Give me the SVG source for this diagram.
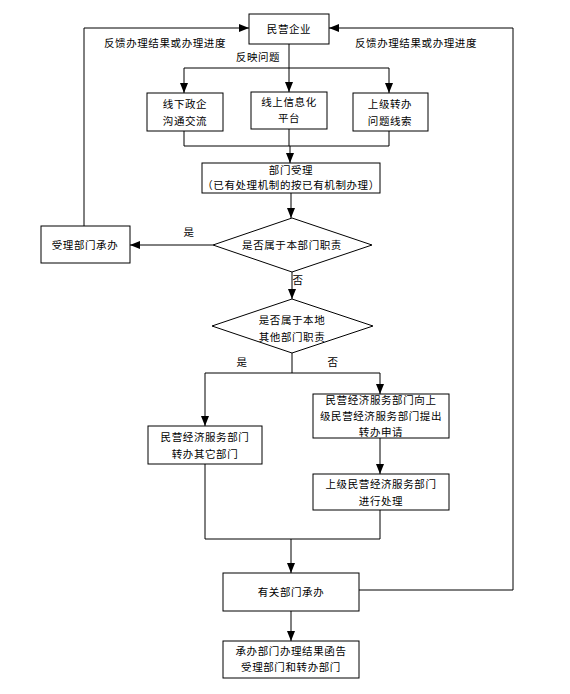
<svg xmlns="http://www.w3.org/2000/svg" width="570" height="694" viewBox="0 0 570 694">
<defs>
<marker id="arr" markerUnits="userSpaceOnUse" markerWidth="10" markerHeight="8" refX="10" refY="4" orient="auto">
<path d="M0,0 L10,4 L0,8 z" fill="#000"/>
</marker>
<style>
.n rect, .n polygon { fill: #fff; stroke: #000; stroke-width: 1; }
text { font-family: "Noto Sans CJK SC", "Liberation Sans", sans-serif; font-size: 10.5px; letter-spacing: 0.6px; fill: #000; text-anchor: middle; }
.c path { fill: none; stroke: #000; stroke-width: 1; }
.a { marker-end: url(#arr); }
</style>
</defs>
<rect width="570" height="694" fill="#fff"/>
<g class="c" id="connectors">
<path class="a" d="M84,226 V28 H249"/>
<path class="a" d="M359,590 H513 V28 H329"/>
<path class="a" d="M289,44 V92"/>
<path d="M184,68 H389"/>
<path class="a" d="M184,68 V93"/>
<path class="a" d="M389,68 V93"/>
<path d="M184,131 V146 M289,129 V146 M389,131 V146 M184,146 H389"/>
<path class="a" d="M290,146 V163"/>
<path class="a" d="M291,193 V218"/>
<path class="a" d="M213,245 H130"/>
<path class="a" d="M292,272 V299"/>
<path d="M292,353 V373 M205,373 H380"/>
<path class="a" d="M205,373 V426"/>
<path class="a" d="M380,373 V394"/>
<path class="a" d="M380,438 V474"/>
<path d="M205,464 V539 M380,510 V539 M205,539 H380"/>
<path class="a" d="M291,539 V573"/>
<path class="a" d="M291,611 V641"/>
</g>
<g id="labels">
<text x="165" y="47">反馈办理结果或办理进度</text>
<text x="416" y="47">反馈办理结果或办理进度</text>
<text x="258" y="61">反映问题</text>
<text x="189" y="236">是</text>
<text x="298" y="284">否</text>
<text x="242" y="366">是</text>
<text x="333" y="366">否</text>
</g>
<g class="n" id="n_enterprise"><rect x="249" y="14" width="80" height="30"/><text x="289" y="33">民营企业</text></g>
<g class="n" id="n_offline"><rect x="147" y="93" width="76" height="38"/><text x="185" y="108">线下政企</text><text x="185" y="125">沟通交流</text></g>
<g class="n" id="n_online"><rect x="251" y="92" width="76" height="37"/><text x="289" y="106">线上信息化</text><text x="289" y="122">平台</text></g>
<g class="n" id="n_upper"><rect x="353" y="93" width="75" height="38"/><text x="390" y="108">上级转办</text><text x="390" y="125">问题线索</text></g>
<g class="n" id="n_accept"><rect x="202" y="163" width="178" height="30"/><text x="291" y="174">部门受理</text><text x="291" y="189">（已有处理机制的按已有机制办理）</text></g>
<g class="n" id="n_d1"><polygon points="292,218 372,245 292,272 213,245"/><text x="292" y="249">是否属于本部门职责</text></g>
<g class="n" id="n_self"><rect x="41" y="226" width="89" height="37"/><text x="85" y="249">受理部门承办</text></g>
<g class="n" id="n_d2"><polygon points="292,299 373,326 292,353 212,326"/><text x="292" y="324">是否属于本地</text><text x="292" y="341">其他部门职责</text></g>
<g class="n" id="n_transfer"><rect x="148" y="426" width="114" height="38"/><text x="205" y="441">民营经济服务部门</text><text x="205" y="458">转办其它部门</text></g>
<g class="n" id="n_apply"><rect x="313" y="394" width="136" height="44"/><text x="381" y="404">民营经济服务部门向上</text><text x="381" y="420">级民营经济服务部门提出</text><text x="381" y="436">转办申请</text></g>
<g class="n" id="n_upproc"><rect x="313" y="474" width="136" height="36"/><text x="381" y="488">上级民营经济服务部门</text><text x="381" y="505">进行处理</text></g>
<g class="n" id="n_handle"><rect x="223" y="573" width="136" height="38"/><text x="291" y="596">有关部门承办</text></g>
<g class="n" id="n_result"><rect x="223" y="641" width="136" height="37"/><text x="291" y="655">承办部门办理结果函告</text><text x="291" y="671">受理部门和转办部门</text></g>
</svg>
